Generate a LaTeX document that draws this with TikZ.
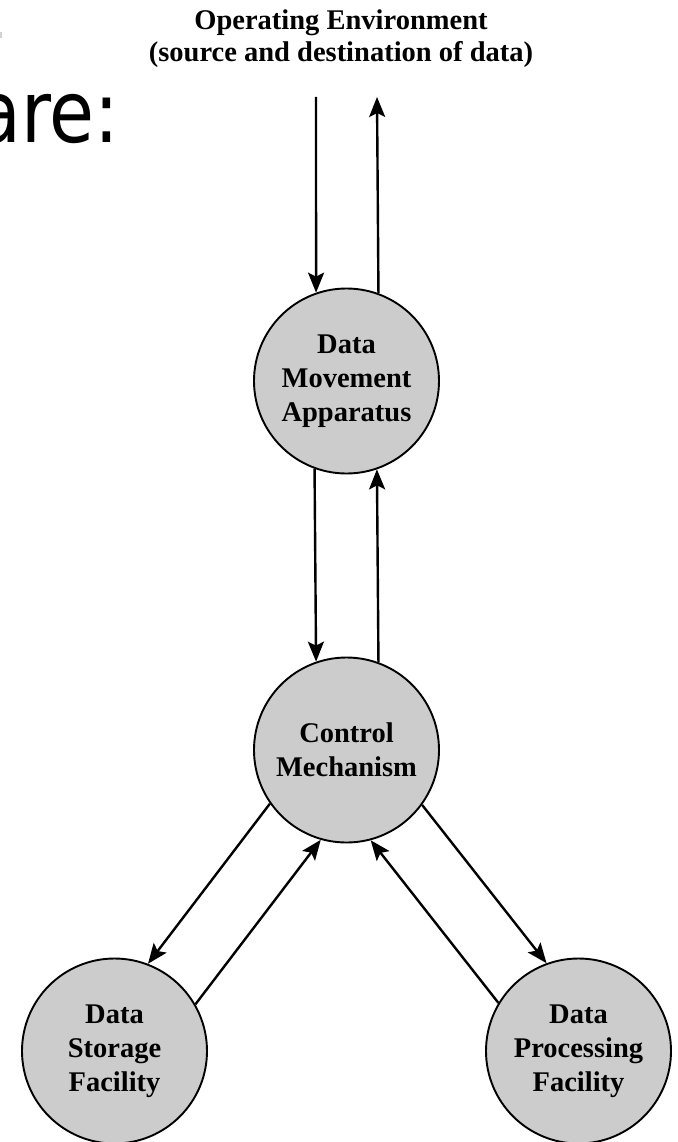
\documentclass[tikz,border=0pt]{standalone}
\usepackage{fontspec}
\setmainfont{Liberation Serif}
\newfontfamily\slidefont{DejaVu Sans}
\usetikzlibrary{arrows.meta}
\definecolor{unitfill}{RGB}{204,204,204}
\begin{document}
\begin{tikzpicture}[x=1pt,y=-1pt,
  unit/.style={circle, draw=black, line width=1.9pt, fill=unitfill,
    minimum size=185pt, inner sep=0pt, align=center,
    font=\bfseries\fontsize{28.5}{34}\selectfont},
  envtext/.style={anchor=base, inner sep=0pt,
    font=\bfseries\fontsize{28.5}{32}\selectfont},
  flow/.style={line width=2.4pt, -{Stealth[length=20pt,width=16pt,inset=4pt]}}]
  \useasboundingbox (0,0) rectangle (677,1142);

  % fragment of the slide heading, cut at the left edge
  \begin{scope}
    \clip (0,0) rectangle (677,1142);
    \fill[gray!35] (0,32) rectangle (2,38);
    \node[anchor=base west, inner sep=0pt, font=\slidefont\fontsize{86}{86}\selectfont]
      (heading) at (-24,143) {\scalebox{0.85}[1]{are:}};
  \end{scope}

  % environment label
  \node[envtext] (envtitle) at (341,30) {Operating Environment};
  \node[envtext] (envsub) at (341,62) {(source and destination of data)};
  \coordinate (envdown) at (316,97);
  \coordinate (envup) at (377,97);

  % functional units
  \node[unit] (dma) at (346.5,381) {Data\\Movement\\Apparatus};
  \node[unit] (cm) at (346.5,750) {Control\\Mechanism};
  \node[unit] (dsf) at (114.5,1051) {Data\\Storage\\Facility};
  \node[unit] (dpf) at (578.5,1051) {Data\\Processing\\Facility};

  % data paths
  \draw[flow] (envdown) -- (dma.109.15);
  \draw[flow] (dma.70.85) -- (envup);
  \draw[flow] (dma.250.85) -- (cm.109.15);
  \draw[flow] (cm.70.85) -- (dma.289.15);
  \draw[flow] (cm.215.5) -- (dsf.69.3);
  \draw[flow] (dsf.30.3) -- (cm.254.5);
  \draw[flow] (cm.324.5) -- (dpf.110.7);
  \draw[flow] (dpf.149.7) -- (cm.285.5);
\end{tikzpicture}
\end{document}
